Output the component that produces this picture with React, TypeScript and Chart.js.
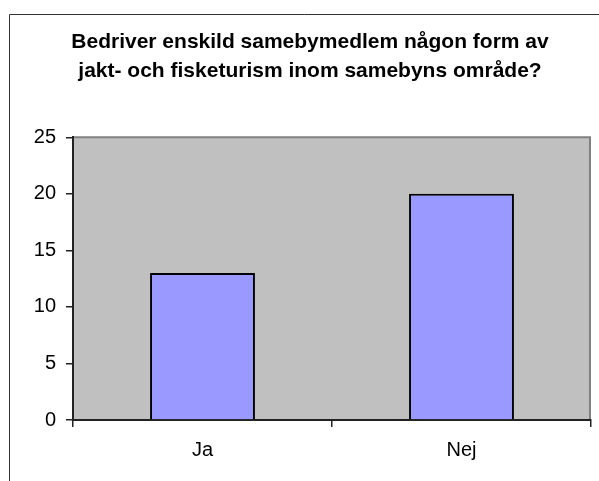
import React, { useEffect, useRef } from "react";
import { Chart, registerables } from "chart.js";

Chart.register(...registerables);

const categories: string[] = ["Ja", "Nej"];
const values: number[] = [13, 20];
const titleLines: string[] = [
  "Bedriver enskild samebymedlem någon form av",
  "jakt- och fisketurism inom samebyns område?",
];
const yMin = 0;
const yMax = 25;
const yStep = 5;

const FONT = "'Liberation Sans', Arial, Helvetica, sans-serif";

const framePlugin = {
  id: "frameAndPlotBg",
  beforeDraw(chart: any) {
    const { ctx, chartArea } = chart;
    const { left, top, right, bottom } = chartArea;
    ctx.save();
    // outer frame (clipped at right and bottom)
    ctx.strokeStyle = "#333333";
    ctx.lineWidth = 1;
    ctx.beginPath();
    ctx.moveTo(9.5, chart.height + 2);
    ctx.lineTo(9.5, 14.5);
    ctx.lineTo(chart.width + 2, 14.5);
    ctx.stroke();
    // plot background
    ctx.fillStyle = "#C0C0C0";
    ctx.fillRect(left, top, right - left, bottom - top);
    // plot border top & right
    ctx.strokeStyle = "#808080";
    ctx.lineWidth = 2;
    ctx.beginPath();
    ctx.moveTo(left, top);
    ctx.lineTo(right - 1, top);
    ctx.lineTo(right - 1, bottom);
    ctx.stroke();
    ctx.restore();
  },
};

export default function App() {
  const ref = useRef<HTMLCanvasElement | null>(null);

  useEffect(() => {
    if (!ref.current) return;
    const chart = new Chart(ref.current, {
      type: "bar",
      data: {
        labels: categories,
        datasets: [
          {
            data: values,
            backgroundColor: "#9999FF",
            borderColor: "#000000",
            borderWidth: 2,
            borderSkipped: "start",
            categoryPercentage: 1,
            barPercentage: 0.405,
          },
        ],
      },
      options: {
        animation: false,
        responsive: false,
        maintainAspectRatio: false,
        layout: { padding: { left: 29, right: 8, top: 0, bottom: 0 } },
        plugins: {
          legend: { display: false },
          tooltip: { enabled: false },
          title: {
            display: true,
            text: titleLines,
            color: "#000000",
            font: { family: FONT, size: 21, weight: "bold", lineHeight: 1.34 },
            padding: { top: 28.5, bottom: 52.5 },
          },
        },
        scales: {
          x: {
            z: 1,
            grid: {
              display: true,
              drawOnChartArea: false,
              drawTicks: true,
              tickLength: 7,
              color: "#222222",
              lineWidth: 1.5,
              offset: true,
            },
            border: { display: true, color: "#222222", width: 2 },
            ticks: {
              color: "#000000",
              font: { family: FONT, size: 20 },
              padding: 11,
            },
            afterFit(scale: any) {
              scale.height = 61;
            },
          },
          y: {
            z: 1,
            min: yMin,
            max: yMax,
            grid: {
              display: true,
              drawOnChartArea: false,
              drawTicks: true,
              tickLength: 7,
              color: "#222222",
              lineWidth: 1.5,
            },
            border: { display: true, color: "#222222", width: 2 },
            ticks: {
              stepSize: yStep,
              color: "#000000",
              font: { family: FONT, size: 20 },
              padding: 10,
            },
            afterFit(scale: any) {
              scale.width = 44;
            },
          },
        },
      },
      plugins: [framePlugin],
    });
    return () => chart.destroy();
  }, []);

  return (
    <div style={{ position: "absolute", left: 0, top: 0, width: 599, height: 481, background: "#ffffff" }}>
      <canvas ref={ref} width={599} height={481} style={{ width: 599, height: 481, display: "block" }} />
    </div>
  );
}
